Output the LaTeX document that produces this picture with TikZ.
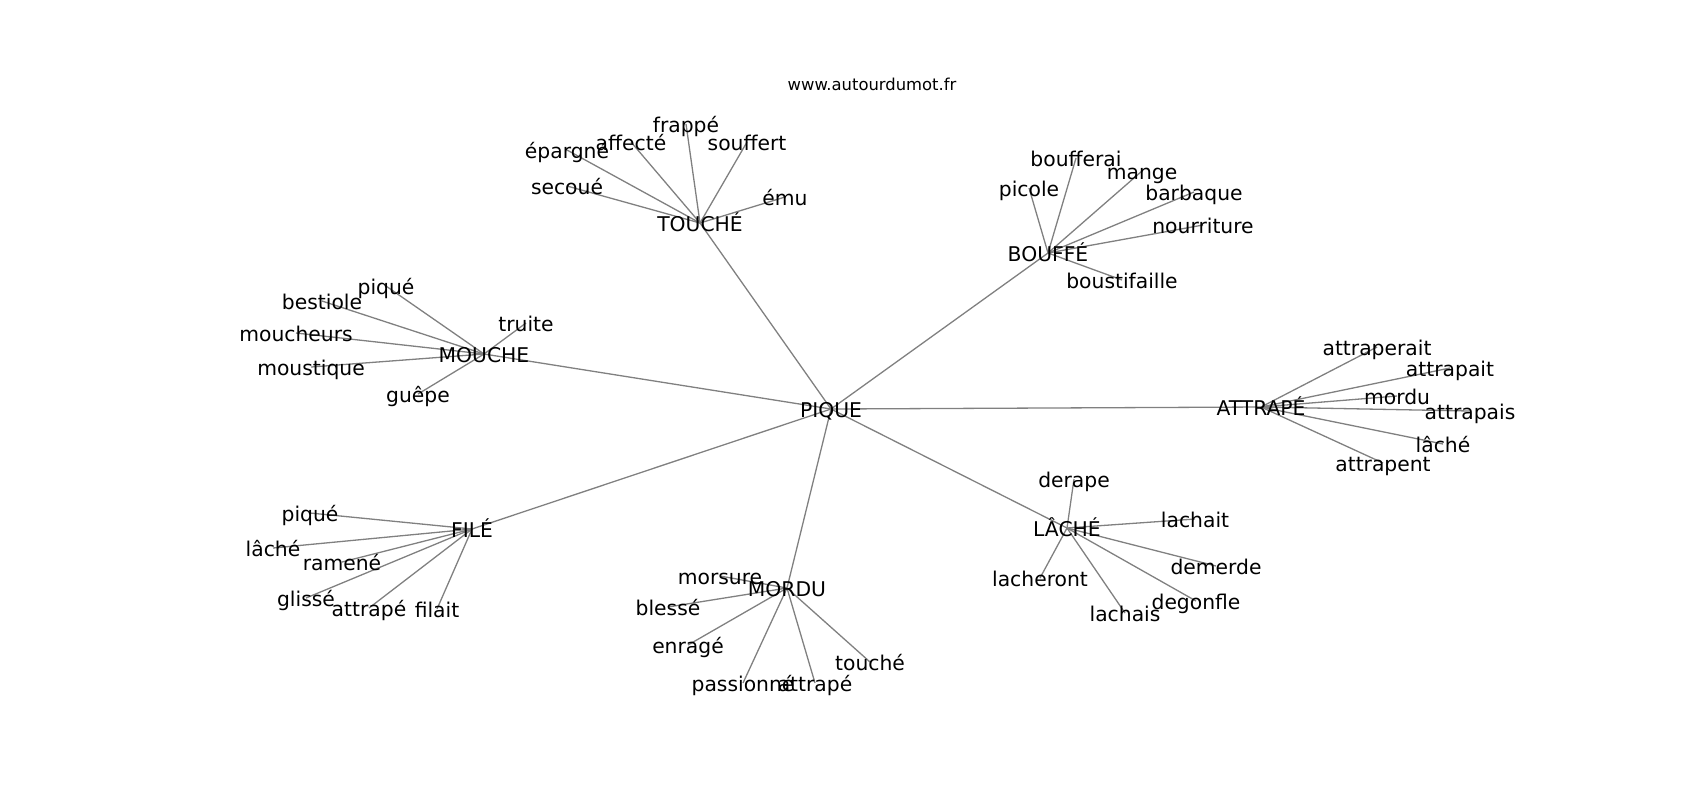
\documentclass[tikz,border=0pt]{standalone}
\usepackage{fontspec}
\setmainfont{DejaVu Sans}
\usepackage{tikz}
\usetikzlibrary{backgrounds}
\tikzset{word/.style={inner sep=0pt, text height=0.9em, text depth=0.1em, font=\fontsize{10.15}{12}\selectfont},
  link/.style={draw=gray, line width=0.65pt}}

\begin{document}
\begin{tikzpicture}[x=0.5pt, y=-0.5pt]
  \useasboundingbox (0,0) rectangle (1700,800);
  \node[font=\fontsize{8.2}{10}\selectfont] (site) at (872,84) {www.autourdumot.fr};

  \node[word] (pique) at (831,409) {PIQUE};

  \node[word] (touche) at (700,223) {TOUCHÉ};
  \node[word] (t-epargne) at (567,150) {épargné};
  \node[word] (t-affecte) at (631,142) {affecté};
  \node[word] (t-frappe) at (686,124) {frappé};
  \node[word] (t-souffert) at (747,142) {souffert};
  \node[word] (t-secoue) at (567,186) {secoué};
  \node[word] (t-emu) at (785,197) {ému};

  \node[word] (bouffe) at (1048,253) {BOUFFÉ};
  \node[word] (b-boufferai) at (1076,158) {boufferai};
  \node[word] (b-mange) at (1142,171) {mange};
  \node[word] (b-picole) at (1029,188) {picole};
  \node[word] (b-barbaque) at (1194,192) {barbaque};
  \node[word] (b-nourriture) at (1203,225) {nourriture};
  \node[word] (b-boustifaille) at (1122,280) {boustifaille};

  \node[word] (mouche) at (484,354) {MOUCHE};
  \node[word] (m-pique) at (386,286) {piqué};
  \node[word] (m-bestiole) at (322,301) {bestiole};
  \node[word] (m-truite) at (526,323) {truite};
  \node[word] (m-moucheurs) at (296,333) {moucheurs};
  \node[word] (m-moustique) at (311,367) {moustique};
  \node[word] (m-guepe) at (418,394) {guêpe};

  \node[word] (attrape) at (1261,407) {ATTRAPÉ};
  \node[word] (a-attraperait) at (1377,347) {attraperait};
  \node[word] (a-attrapait) at (1450,368) {attrapait};
  \node[word] (a-mordu) at (1397,396) {mordu};
  \node[word] (a-attrapais) at (1470,411) {attrapais};
  \node[word] (a-lache) at (1443,444) {lâché};
  \node[word] (a-attrapent) at (1383,463) {attrapent};

  \node[word] (file) at (472,529) {FILÉ};
  \node[word] (f-pique) at (310,513) {piqué};
  \node[word] (f-lache) at (273,548) {lâché};
  \node[word] (f-ramene) at (342,562) {ramené};
  \node[word] (f-glisse) at (306,598) {glissé};
  \node[word] (f-attrape) at (369,608) {attrapé};
  \node[word] (f-filait) at (437,609) {filait};

  \node[word] (mordu) at (787,588) {MORDU};
  \node[word] (d-morsure) at (720,576) {morsure};
  \node[word] (d-blesse) at (668,607) {blessé};
  \node[word] (d-enrage) at (688,645) {enragé};
  \node[word] (d-touche) at (870,662) {touché};
  \node[word] (d-passionne) at (743,683) {passionné};
  \node[word] (d-attrape) at (815,683) {attrapé};

  \node[word] (lache) at (1067,528) {LÂCHÉ};
  \node[word] (l-derape) at (1074,479) {derape};
  \node[word] (l-lachait) at (1195,519) {lachait};
  \node[word] (l-demerde) at (1216,566) {demerde};
  \node[word] (l-lacheront) at (1040,578) {lacheront};
  \node[word] (l-degonfle) at (1196,601) {degonfle};
  \node[word] (l-lachais) at (1125,613) {lachais};

  \begin{scope}[on background layer]
    \foreach \hub in {touche, bouffe, mouche, attrape, file, mordu, lache}
      \draw[link] (pique.center) -- (\hub.center);
    \foreach \w in {epargne, affecte, frappe, souffert, secoue, emu}
      \draw[link] (touche.center) -- (t-\w.center);
    \foreach \w in {boufferai, mange, picole, barbaque, nourriture, boustifaille}
      \draw[link] (bouffe.center) -- (b-\w.center);
    \foreach \w in {pique, bestiole, truite, moucheurs, moustique, guepe}
      \draw[link] (mouche.center) -- (m-\w.center);
    \foreach \w in {attraperait, attrapait, mordu, attrapais, lache, attrapent}
      \draw[link] (attrape.center) -- (a-\w.center);
    \foreach \w in {pique, lache, ramene, glisse, attrape, filait}
      \draw[link] (file.center) -- (f-\w.center);
    \foreach \w in {morsure, blesse, enrage, touche, passionne, attrape}
      \draw[link] (mordu.center) -- (d-\w.center);
    \foreach \w in {derape, lachait, demerde, lacheront, degonfle, lachais}
      \draw[link] (lache.center) -- (l-\w.center);
  \end{scope}
\end{tikzpicture}
\end{document}
